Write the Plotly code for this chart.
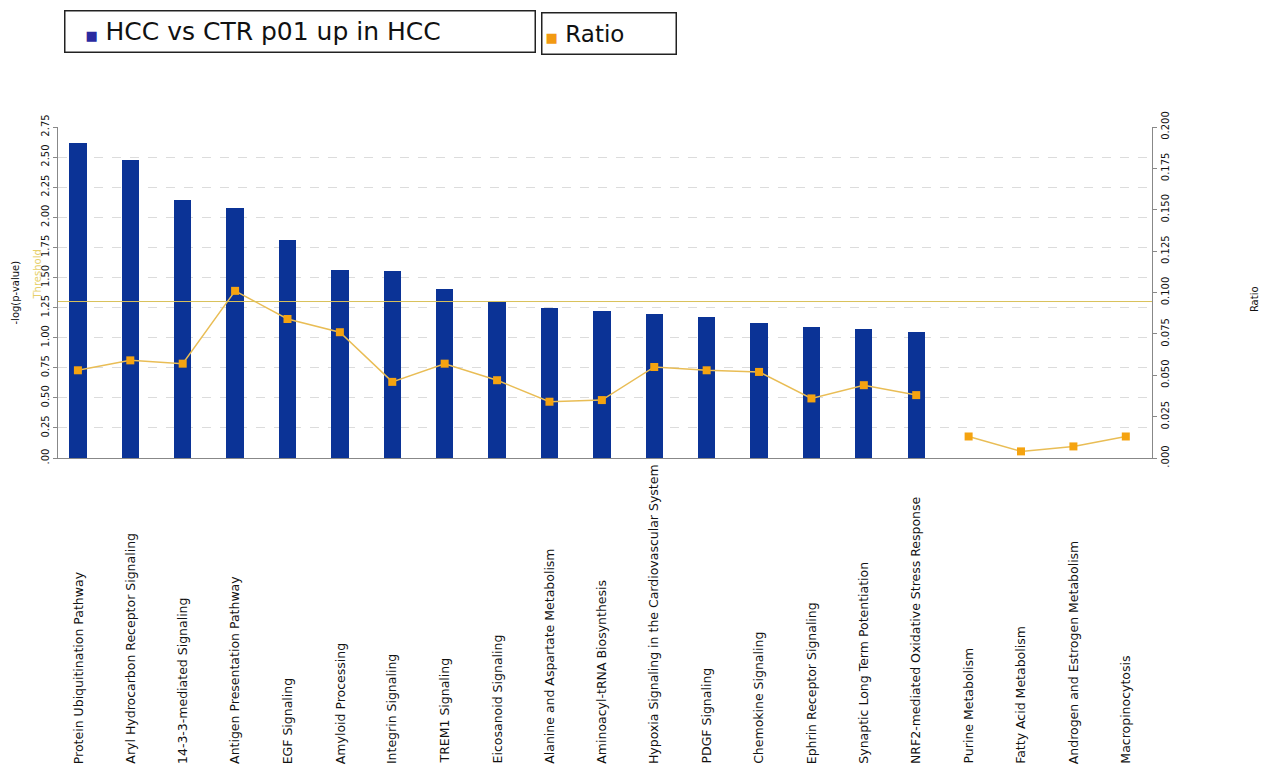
import plotly.graph_objects as go

categories = [
    "Protein Ubiquitination Pathway", "Aryl Hydrocarbon Receptor Signaling",
    "14-3-3-mediated Signaling", "Antigen Presentation Pathway", "EGF Signaling",
    "Amyloid Processing", "Integrin Signaling", "TREM1 Signaling",
    "Eicosanoid Signaling", "Alanine and Aspartate Metabolism",
    "Aminoacyl-tRNA Biosynthesis", "Hypoxia Signaling in the Cardiovascular System",
    "PDGF Signaling", "Chemokine Signaling", "Ephrin Receptor Signaling",
    "Synaptic Long Term Potentiation", "NRF2-mediated Oxidative Stress Response",
    "Purine Metabolism", "Fatty Acid Metabolism", "Androgen and Estrogen Metabolism",
    "Macropinocytosis",
]
neglogp = [2.62, 2.48, 2.14, 2.08, 1.81, 1.56, 1.55, 1.40, 1.30, 1.25, 1.22,
           1.20, 1.17, 1.12, 1.09, 1.07, 1.05, 0, 0, 0, 0]
ratio = [0.053, 0.059, 0.057, 0.101, 0.084, 0.076, 0.046, 0.057, 0.047, 0.034,
         0.035, 0.055, 0.053, 0.052, 0.036, 0.044, 0.038, 0.013, 0.004, 0.007, 0.013]
threshold = 1.3
left_ticks = [0, 0.25, 0.5, 0.75, 1.0, 1.25, 1.5, 1.75, 2.0, 2.25, 2.5, 2.75]
left_ticktext = [".00", "0.25", "0.50", "0.75", "1.00", "1.25", "1.50", "1.75", "2.00", "2.25", "2.50", "2.75"]
right_ticks = [0, 0.025, 0.05, 0.075, 0.1, 0.125, 0.15, 0.175, 0.2]
right_ticktext = [".000", "0.025", "0.050", "0.075", "0.100", "0.125", "0.150", "0.175", "0.200"]

xs = list(range(len(categories)))
n_sig = sum(1 for v in neglogp if v > 0)

FONT = "DejaVu Sans"
BAR = "#0b3396"
LINE = "#e9bd55"
MARK = "#f5a310"

fig = go.Figure()
fig.add_trace(go.Bar(x=xs[:n_sig], y=neglogp[:n_sig], width=0.33,
                     marker=dict(color=BAR, line=dict(width=0)), showlegend=False))
fig.add_trace(go.Scatter(x=xs[:n_sig], y=ratio[:n_sig], yaxis="y2", mode="lines+markers",
                         line=dict(color=LINE, width=1.5),
                         marker=dict(symbol="square", size=8, color=MARK), showlegend=False))
fig.add_trace(go.Scatter(x=xs[n_sig:], y=ratio[n_sig:], yaxis="y2", mode="lines+markers",
                         line=dict(color=LINE, width=1.5),
                         marker=dict(symbol="square", size=8, color=MARK), showlegend=False))

fig.add_shape(type="line", xref="paper", x0=0, x1=1, yref="y", y0=threshold, y1=threshold,
              line=dict(color="#d9c25a", width=1))

PW, PH = 1094, 331

annotations = []
for i, c in enumerate(categories):
    annotations.append(dict(x=i, xref="x", y=-0.93, yref="paper", text=c, textangle=-90,
                            showarrow=False, xanchor="center", yanchor="bottom",
                            font=dict(family=FONT, size=12.5, color="#111")))
annotations.append(dict(x=(38 - 58) / PW, xref="paper", y=threshold, yref="y", text="Threshold",
                        textangle=-90, showarrow=False, xanchor="center", yanchor="bottom",
                        font=dict(family=FONT, size=10, color="#e6cf6a")))
annotations.append(dict(x=(15 - 58) / PW, xref="paper", y=0.5, yref="paper", text="-log(p-value)",
                        textangle=-90, showarrow=False, xanchor="center", yanchor="middle",
                        font=dict(family=FONT, size=10, color="#111")))
annotations.append(dict(x=(1254 - 58) / PW, xref="paper", y=0.48, yref="paper", text="Ratio",
                        textangle=-90, showarrow=False, xanchor="center", yanchor="middle",
                        font=dict(family=FONT, size=10, color="#111")))
# legend boxes
annotations.append(dict(x=(64 - 58) / PW, y=(458 - 10) / PH, xref="paper", yref="paper",
                        text="<span style='font-size:12px'>&nbsp;&nbsp;&nbsp;&nbsp;&nbsp;</span>"
                             "<span style='color:#2a2aa0;font-size:13px'>■</span>"
                             "<span style='font-size:12px'>&nbsp;&nbsp;</span>HCC vs CTR p01 up in HCC",
                        showarrow=False, xanchor="left", yanchor="top", align="left",
                        width=467, height=38, bordercolor="#222", borderwidth=1.5,
                        bgcolor="white", font=dict(family=FONT, size=25, color="#111")))
annotations.append(dict(x=(541 - 58) / PW, y=(458 - 12) / PH, xref="paper", yref="paper",
                        text="<span style='font-size:6px'>&nbsp;</span>"
                             "<span style='color:#f29a12;font-size:13px'>■</span>"
                             "<span style='font-size:12px'>&nbsp;&nbsp;</span>Ratio",
                        showarrow=False, xanchor="left", yanchor="top", align="left",
                        width=131, height=38, bordercolor="#222", borderwidth=1.5,
                        bgcolor="white", font=dict(family=FONT, size=23, color="#111")))

fig.update_layout(
    width=1262, height=760,
    margin=dict(l=50, r=118, t=119, b=310),
    plot_bgcolor="white", paper_bgcolor="white",
    font=dict(family=FONT, size=10, color="#111"),
    bargap=0,
    xaxis=dict(range=[-0.38, 20.5], showticklabels=False, showgrid=False, zeroline=False,
               showline=True, linecolor="#888", linewidth=1, ticks=""),
    yaxis=dict(range=[0, 2.75], tickvals=left_ticks, ticktext=left_ticktext, tickangle=-90,
               showgrid=True, gridcolor="#dcdcdc", griddash="dash", zeroline=False,
               showline=True, linecolor="#888", linewidth=1, ticks="outside", ticklen=4,
               tickcolor="#888", tickfont=dict(family=FONT, size=10)),
    yaxis2=dict(range=[0, 0.2], tickvals=right_ticks, ticktext=right_ticktext, tickangle=-90,
                overlaying="y", side="right", showgrid=False, zeroline=False,
                showline=True, linecolor="#888", linewidth=1, ticks="outside", ticklen=4,
                tickcolor="#888", tickfont=dict(family=FONT, size=10)),
    annotations=annotations,
)

fig.write_html("out.html")
